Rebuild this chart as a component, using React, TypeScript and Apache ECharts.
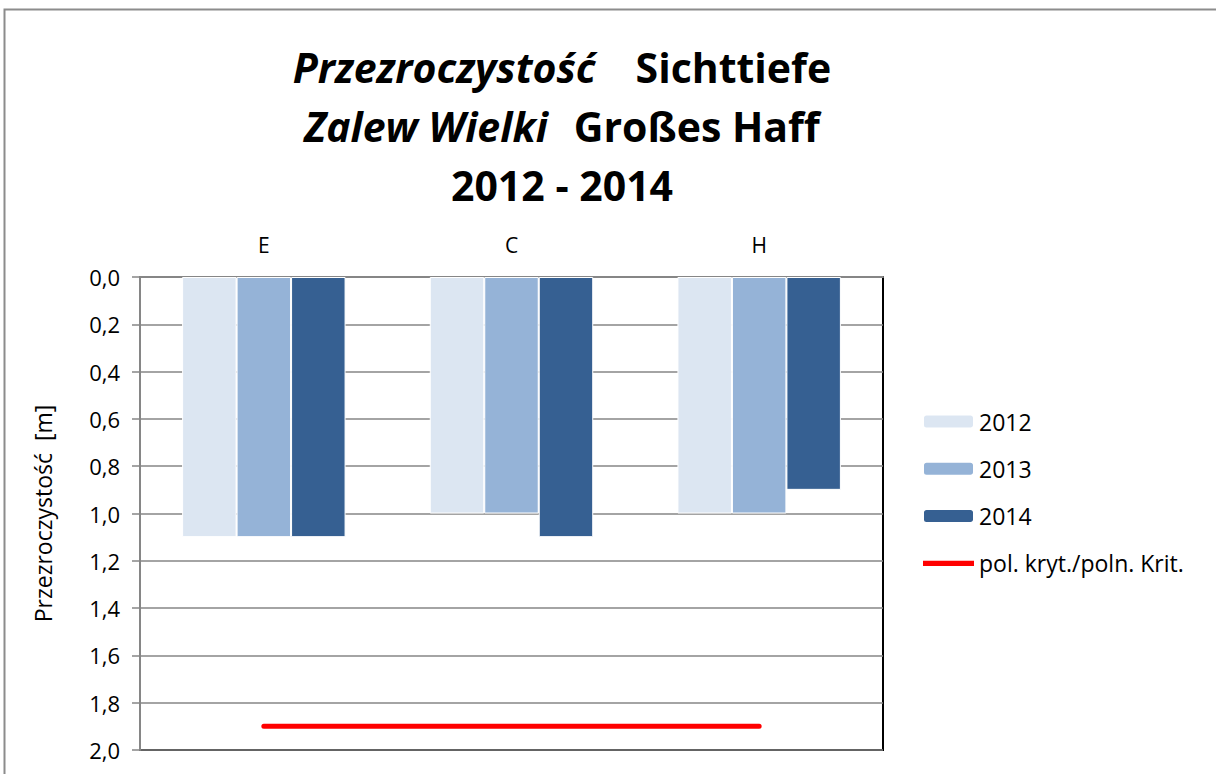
import React, { useEffect, useRef } from "react";
import * as echarts from "echarts";

const categories = ["E", "C", "H"];
const seriesNames = ["2012", "2013", "2014"];
const values2012 = [1.1, 1.0, 1.0];
const values2013 = [1.1, 1.0, 1.0];
const values2014 = [1.1, 1.1, 0.9];
const criterionName = "pol. kryt./poln. Krit.";
const criterionValues = [1.9, 1.9, 1.9];
const barColors = ["#DCE6F2", "#95B3D7", "#366092"];

const FONT = "'Open Sans', 'Noto Sans', sans-serif";

export default function App() {
  const ref = useRef<HTMLDivElement>(null);
  useEffect(() => {
    if (!ref.current) return;
    const chart = echarts.init(ref.current, undefined, { renderer: "svg" });
    const barData = [values2012, values2013, values2014];
    const NB = "\u00A0";
    chart.setOption({
      animation: false,
      backgroundColor: "#ffffff",
      textStyle: { fontFamily: FONT },
      title: {
        text:
          `{i|Przezroczystość}{s1|${NB}}{b|Sichttiefe}\n{i|Zalew Wielki}{s2|${NB}}{b|Großes Haff}\n{b|2012 - 2014}`,
        left: 557,
        top: 32,
        textAlign: "center",
        textStyle: {
          fontFamily: FONT,
          rich: {
            i: { fontFamily: FONT, fontSize: 41, fontStyle: "italic", fontWeight: "bold", color: "#000", lineHeight: 59 },
            b: { fontFamily: FONT, fontSize: 41, fontWeight: "bold", color: "#000", lineHeight: 59 },
            s1: { fontSize: 41, width: 40, lineHeight: 59 },
            s2: { fontSize: 41, width: 26, lineHeight: 59 },
          },
        },
      },
      graphic: [
        {
          type: "rect",
          shape: { x: 4.5, y: 9.5, width: 1230, height: 800 },
          style: { fill: "none", stroke: "#8c8c8c", lineWidth: 2 },
          silent: true,
        },
      ],
      legend: {
        orient: "vertical",
        left: 922,
        top: 410,
        padding: 0,
        itemWidth: 51,
        itemHeight: 14,
        itemGap: 24.3,
        data: [
          ...seriesNames,
          { name: criterionName, icon: "path://M0,0 L50,0 L50,5 L0,5 Z" },
        ],
        textStyle: { fontFamily: FONT, fontSize: 23, color: "#000" },
      },
      grid: {
        left: 140,
        right: 333,
        top: 277,
        bottom: 24,
        show: true,
        borderColor: "#000",
        borderWidth: 2,
        backgroundColor: "transparent",
      },
      xAxis: {
        type: "category",
        position: "top",
        data: categories,
        axisLine: { lineStyle: { color: "#868686", width: 2 } },
        axisTick: { show: false },
        axisLabel: { color: "#000", fontSize: 21, margin: 22, fontFamily: FONT },
      },
      yAxis: {
        type: "value",
        inverse: true,
        min: 0,
        max: 2,
        interval: 0.2,
        name: "Przezroczystość  [m]",
        nameLocation: "middle",
        nameGap: 86,
        nameTextStyle: { color: "#000", fontSize: 23, fontFamily: FONT },
        axisLine: { show: true, lineStyle: { color: "#868686", width: 2 } },
        axisTick: { show: true, length: 8, lineStyle: { color: "#868686", width: 1.5 } },
        splitLine: { lineStyle: { color: "#868686", width: 1.5 } },
        axisLabel: {
          color: "#000",
          fontSize: 22,
          margin: 20,
          fontFamily: FONT,
          formatter: (v: number) => v.toFixed(1).replace(".", ","),
        },
      },
      series: [
        ...seriesNames.map((name, i) => ({
          name,
          type: "bar",
          data: barData[i],
          barGap: "0%",
          barCategoryGap: "34%",
          itemStyle: { color: barColors[i], borderColor: "#fff", borderWidth: 1 },
        })),
        {
          name: criterionName,
          type: "line",
          data: criterionValues,
          symbol: "none",
          lineStyle: { color: "#ff0000", width: 5, cap: "round" },
          itemStyle: { color: "#ff0000" },
          z: 5,
        },
      ],
    });
    return () => chart.dispose();
  }, []);
  return (
    <div
      ref={ref}
      style={{ position: "absolute", left: 0, top: 0, width: 1216, height: 774 }}
    />
  );
}
